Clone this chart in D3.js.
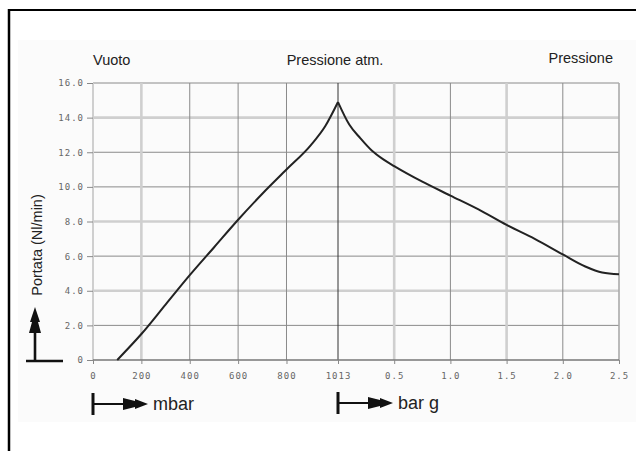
<!DOCTYPE html>
<html>
<head>
<meta charset="utf-8">
<script src="https://cdn.jsdelivr.net/npm/d3@7"></script>
<style>
  body { margin: 0; background: #fff; }
  .tick text { font-family: "DejaVu Sans Mono", monospace; font-size: 9px; letter-spacing: 1px; fill: #666; }
  .lbl { font-family: "Liberation Sans", Arial, sans-serif; fill: #222; }
</style>
</head>
<body>
<div id="chart"></div>
<script>
// svg size
var svgWidth = 636;
var svgHeight = 451;

// data
// vacuum side, mbar absolute
var vacMbar = [100, 200, 300, 400, 500, 600, 700, 800, 900, 960, 1013];
var vacFlow = [0, 1.5, 3.2, 4.9, 6.5, 8.1, 9.6, 11.0, 12.4, 13.5, 14.9];
// pressure side, bar g
var pressBar = [0, 0.1, 0.2, 0.3, 0.4, 0.5, 0.75, 1.0, 1.25, 1.5, 1.75, 2.0, 2.2, 2.35, 2.5];
var pressFlow = [14.9, 13.6, 12.8, 12.1, 11.6, 11.2, 10.3, 9.5, 8.7, 7.8, 7.0, 6.1, 5.4, 5.05, 4.95];

// tick labels
var vacTicks = [0, 200, 400, 600, 800, 1013];
var pressTicks = [0.5, 1.0, 1.5, 2.0, 2.5];
var yTicks = [0, 2, 4, 6, 8, 10, 12, 14, 16];

var svg = d3.select("#chart").append("svg")
    .attr("width", svgWidth)
    .attr("height", svgHeight);

// outer frame (only top and left are visible)
svg.append("rect").attr("x", 18).attr("y", 40).attr("width", 620).attr("height", 382).attr("fill", "#fbfbfb");
svg.append("line").attr("x1", 8.5).attr("x2", 636).attr("y1", 10).attr("y2", 10)
    .attr("stroke", "#000").attr("stroke-width", 2.2);
svg.append("line").attr("x1", 9).attr("x2", 9).attr("y1", 9).attr("y2", 451)
    .attr("stroke", "#000").attr("stroke-width", 2.5);

// scales: two linear pieces sharing the atmospheric point
var xVac = d3.scaleLinear().domain([0, 1013]).range([93, 338]);
var xPress = d3.scaleLinear().domain([0, 2.5]).range([338, 619]);
var y = d3.scaleLinear().domain([0, 16]).range([360, 83]);

var light = { stroke: "#cfcfcf", w: 2.6 };
var dark = { stroke: "#8a8a8a", w: 1 };

// horizontal grid
var lightY = [4, 8, 14];
svg.append("g").selectAll("line")
    .data(yTicks.filter(d => d > 0))
    .enter().append("line")
    .attr("x1", 93).attr("x2", 619)
    .attr("y1", d => y(d)).attr("y2", d => y(d))
    .attr("stroke", d => lightY.includes(d) ? light.stroke : dark.stroke)
    .attr("stroke-width", d => lightY.includes(d) ? light.w : dark.w);

// vertical grid
var vGrid = vacTicks.map(d => ({ x: xVac(d), lt: d === 0 || d === 200, atm: d === 1013 }))
    .concat(pressTicks.map(d => ({ x: xPress(d), lt: d === 0.5 || d === 1.5, atm: false, end: d === 2.5 })));
svg.append("g").selectAll("line")
    .data(vGrid)
    .enter().append("line")
    .attr("x1", d => d.x).attr("x2", d => d.x)
    .attr("y1", 83).attr("y2", 360)
    .attr("stroke", d => d.atm ? "#333" : (d.end ? "#aaa" : (d.lt ? light.stroke : dark.stroke)))
    .attr("stroke-width", d => d.lt ? (d.x < 100 ? 2 : light.w) : (d.end ? 1.6 : 1));

// bottom base line
svg.append("line").attr("x1", 93).attr("x2", 619).attr("y1", 360).attr("y2", 360)
    .attr("stroke", "#777").attr("stroke-width", 1.6);

// axes
var leftAxis = d3.axisLeft(y).tickValues(yTicks).tickSize(6).tickPadding(3)
    .tickFormat(d => d === 0 ? "0" : d.toFixed(1));
var gy = svg.append("g").attr("transform", "translate(93,0)").call(leftAxis);

var vacAxis = d3.axisBottom(xVac).tickValues(vacTicks).tickSize(4).tickPadding(9).tickFormat(d3.format("d"));
var gxv = svg.append("g").attr("transform", "translate(0,360)").call(vacAxis);

var pressAxis = d3.axisBottom(xPress).tickValues(pressTicks).tickSize(4).tickPadding(9).tickFormat(d3.format(".1f"));
var gxp = svg.append("g").attr("transform", "translate(0,360)").call(pressAxis);

[gy, gxv, gxp].forEach(function(g) {
    g.select(".domain").remove();
    g.selectAll(".tick line").attr("stroke", "#888");
});

// the curve, drawn in two parts so the peak stays sharp
var vacLine = d3.line()
    .x((d, i) => xVac(vacMbar[i]))
    .y(d => y(d))
    .curve(d3.curveMonotoneX);
var pressLine = d3.line()
    .x((d, i) => xPress(pressBar[i]))
    .y(d => y(d))
    .curve(d3.curveMonotoneX);

svg.append("path").attr("d", vacLine(vacFlow))
    .attr("fill", "none").attr("stroke", "#222").attr("stroke-width", 2);
svg.append("path").attr("d", pressLine(pressFlow))
    .attr("fill", "none").attr("stroke", "#222").attr("stroke-width", 2);

// headers
svg.append("text").attr("class", "lbl").attr("x", 93).attr("y", 65)
    .attr("font-size", 14.5).text("Vuoto");
svg.append("text").attr("class", "lbl").attr("x", 335).attr("y", 65)
    .attr("text-anchor", "middle").attr("font-size", 14.5).text("Pressione atm.");
svg.append("text").attr("class", "lbl").attr("x", 613).attr("y", 63)
    .attr("text-anchor", "end").attr("font-size", 14.5).text("Pressione");

// y axis title
svg.append("text").attr("class", "lbl")
    .attr("transform", "translate(42,245) rotate(-90)")
    .attr("text-anchor", "middle").attr("font-size", 14.5)
    .text("Portata (Nl/min)");

// up arrow beside the y title
var ar = svg.append("g").attr("fill", "#111").attr("stroke", "#111");
ar.append("line").attr("x1", 26).attr("x2", 63).attr("y1", 361).attr("y2", 361).attr("stroke-width", 2.6);
ar.append("line").attr("x1", 35).attr("x2", 35).attr("y1", 361).attr("y2", 330).attr("stroke-width", 2.6);
ar.append("path").attr("stroke", "none")
    .attr("d", "M35,307 L40,322 L38,322 L41,333 L29,333 L32,322 L30,322 Z");

// horizontal arrows under the axis
function hArrow(x0, yy, len, label) {
    var g = svg.append("g").attr("fill", "#111").attr("stroke", "#111");
    g.append("line").attr("x1", x0).attr("x2", x0).attr("y1", yy - 11).attr("y2", yy + 11).attr("stroke-width", 3);
    g.append("line").attr("x1", x0).attr("x2", x0 + len - 22).attr("y1", yy).attr("y2", yy).attr("stroke-width", 2);
    g.append("path").attr("stroke", "none")
        .attr("d", "M" + (x0 + len) + "," + yy +
            " L" + (x0 + len - 13) + "," + (yy - 5) +
            " L" + (x0 + len - 13) + "," + (yy - 3) +
            " L" + (x0 + len - 25) + "," + (yy - 6) +
            " L" + (x0 + len - 25) + "," + (yy + 6) +
            " L" + (x0 + len - 13) + "," + (yy + 3) +
            " L" + (x0 + len - 13) + "," + (yy + 5) + " Z");
    svg.append("text").attr("class", "lbl").attr("x", x0 + len + 5).attr("y", yy + 6)
        .attr("font-size", 18).text(label);
}
hArrow(93, 404, 55, "mbar");
hArrow(338, 403, 55, "bar g");
</script>
</body>
</html>
